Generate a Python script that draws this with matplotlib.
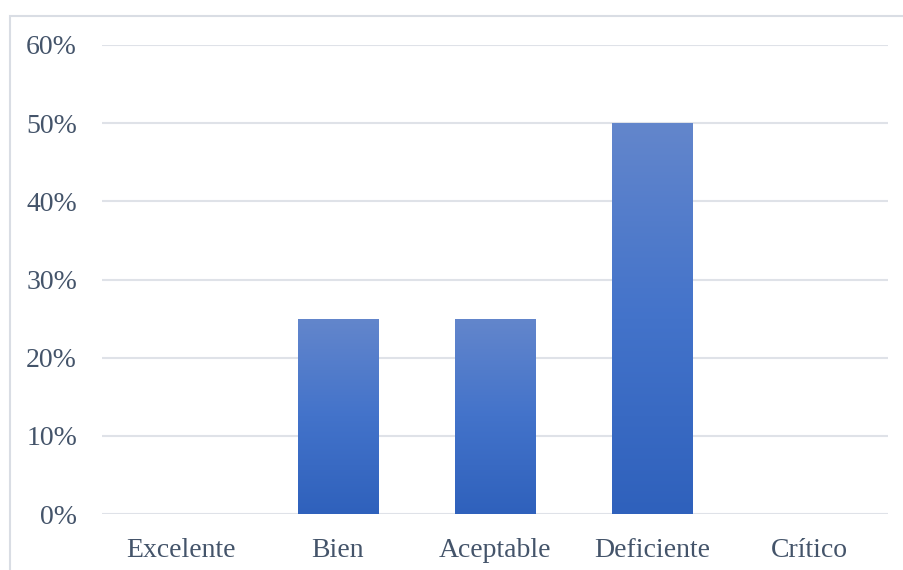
import matplotlib
matplotlib.use("Agg")
import matplotlib.pyplot as plt
import numpy as np
from matplotlib.patches import Rectangle
from matplotlib.colors import LinearSegmentedColormap

categories = ["Excelente", "Bien", "Aceptable", "Deficiente", "Crítico"]
values = [0.0, 0.25, 0.25, 0.50, 0.0]
yticks = [0.0, 0.1, 0.2, 0.3, 0.4, 0.5, 0.6]
ytick_labels = ["0%", "10%", "20%", "30%", "40%", "50%", "60%"]

W, H = 904, 570
fig = plt.figure(figsize=(W / 100, H / 100), dpi=100)
fig.patch.set_facecolor("white")

# chart border (right and bottom edges fall outside the image)
fig.patches.append(Rectangle((9.5 / W, -0.05), (W + 40) / W, (H - 16) / H + 0.05,
                             transform=fig.transFigure, fill=False,
                             edgecolor="#d9dde4", linewidth=1.5))

left, right, top, bottom = 102, 888, 45, 514
ax = fig.add_axes([left / W, 1 - bottom / H, (right - left) / W, (bottom - top) / H])

text_color = "#44546a"
grid_color = "#dfe2e8"
for t in yticks:
    ax.axhline(t, color=grid_color, linewidth=1.5, zorder=0)

cmap = LinearSegmentedColormap.from_list("g", ["#2f61bc", "#4373ca", "#6386cc"])
grad = np.linspace(0, 1, 256).reshape(-1, 1)
bars = ax.bar(range(len(categories)), values, width=0.51, color="none", zorder=2)
for b, v in zip(bars, values):
    if v <= 0:
        continue
    x0 = b.get_x()
    x1 = x0 + b.get_width()
    im = ax.imshow(grad, extent=[x0, x1, 0, v], origin="lower", aspect="auto",
                   cmap=cmap, zorder=2)
    im.set_clip_path(b)
ax.set_xlim(-0.5, len(categories) - 0.5)
ax.set_ylim(0, 0.6)

for s in ax.spines.values():
    s.set_visible(False)
ax.set_yticks(yticks)
ax.set_yticklabels(ytick_labels)
ax.set_xticks(range(len(categories)))
ax.set_xticklabels(categories)
ax.tick_params(length=0, colors=text_color, labelsize=20)
ax.tick_params(axis="y", pad=18)
ax.tick_params(axis="x", pad=17)
for lab in ax.get_xticklabels() + ax.get_yticklabels():
    lab.set_fontfamily("Liberation Serif")
    lab.set_color(text_color)

fig.savefig("out.png", dpi=100)
